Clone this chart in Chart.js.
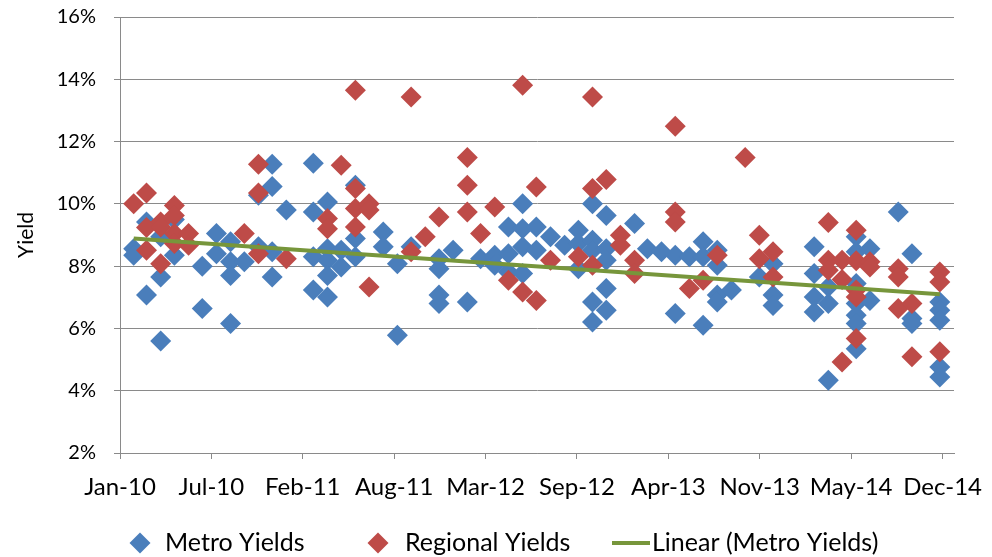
<!DOCTYPE html>
<html>
<head>
<meta charset="utf-8">
<script src="https://cdn.jsdelivr.net/npm/chart.js@4.4.1/dist/chart.umd.min.js"></script>
<style>
  html, body { margin: 0; padding: 0; background: #ffffff; }
  #wrap { width: 992px; height: 557px; }
</style>
</head>
<body>
<div id="wrap"><canvas id="chart" width="992" height="557"></canvas></div>
<script>
// Monthly yield observations: [month, yield %], plotted at each month's end.
const metroPoints = [
  ['2010-01', 8.56], ['2010-01', 8.35],
  ['2010-02', 9.42], ['2010-02', 7.07],
  ['2010-03', 8.94], ['2010-03', 7.65], ['2010-03', 5.6],
  ['2010-04', 9.5], ['2010-04', 8.35],
  ['2010-06', 8.0], ['2010-06', 6.64],
  ['2010-07', 9.05], ['2010-07', 8.4],
  ['2010-08', 8.78], ['2010-08', 8.14], ['2010-08', 7.7], ['2010-08', 6.16],
  ['2010-09', 8.14],
  ['2010-10', 10.28], ['2010-10', 8.62],
  ['2010-11', 11.27], ['2010-11', 10.56], ['2010-11', 8.46], ['2010-11', 7.65],
  ['2010-12', 9.8],
  ['2011-02', 11.3], ['2011-02', 9.74], ['2011-02', 8.3], ['2011-02', 7.23],
  ['2011-03', 10.06], ['2011-03', 8.56], ['2011-03', 8.19], ['2011-03', 7.7], ['2011-03', 7.01],
  ['2011-04', 8.51], ['2011-04', 7.97],
  ['2011-05', 10.6], ['2011-05', 8.89], ['2011-05', 8.3],
  ['2011-07', 9.1], ['2011-07', 8.62],
  ['2011-08', 8.08], ['2011-08', 5.78],
  ['2011-09', 8.62],
  ['2011-11', 8.24], ['2011-11', 7.92], ['2011-11', 7.07], ['2011-11', 6.8],
  ['2011-12', 8.51],
  ['2012-01', 6.85],
  ['2012-02', 8.24],
  ['2012-03', 8.35], ['2012-03', 8.03],
  ['2012-04', 9.26], ['2012-04', 8.4], ['2012-04', 7.81],
  ['2012-05', 10.0], ['2012-05', 9.2], ['2012-05', 8.62], ['2012-05', 7.76],
  ['2012-06', 9.26], ['2012-06', 8.51],
  ['2012-07', 8.94],
  ['2012-08', 8.67],
  ['2012-09', 9.15], ['2012-09', 8.73], ['2012-09', 7.92],
  ['2012-10', 10.0], ['2012-10', 8.83], ['2012-10', 8.51], ['2012-10', 6.85], ['2012-10', 6.21],
  ['2012-11', 9.63], ['2012-11', 8.56], ['2012-11', 8.19], ['2012-11', 7.28], ['2012-11', 6.58],
  ['2013-01', 9.37],
  ['2013-02', 8.56],
  ['2013-03', 8.46],
  ['2013-04', 8.35], ['2013-04', 6.48],
  ['2013-05', 8.3],
  ['2013-06', 8.78], ['2013-06', 8.3], ['2013-06', 6.1],
  ['2013-07', 8.51], ['2013-07', 8.03], ['2013-07', 7.07], ['2013-07', 6.85],
  ['2013-08', 7.23],
  ['2013-10', 7.65],
  ['2013-11', 8.08], ['2013-11', 7.07], ['2013-11', 6.74],
  ['2014-02', 8.62], ['2014-02', 7.76], ['2014-02', 7.01], ['2014-02', 6.53],
  ['2014-03', 7.33], ['2014-03', 6.8], ['2014-03', 4.34],
  ['2014-05', 8.94], ['2014-05', 8.46], ['2014-05', 7.44], ['2014-05', 6.8], ['2014-05', 6.42], ['2014-05', 6.16], ['2014-05', 5.35],
  ['2014-06', 8.56], ['2014-06', 6.9],
  ['2014-08', 9.74],
  ['2014-09', 8.4], ['2014-09', 6.32], ['2014-09', 6.16],
  ['2014-11', 6.85], ['2014-11', 6.58], ['2014-11', 6.26], ['2014-11', 4.76], ['2014-11', 4.44]
];

const regionalPoints = [
  ['2010-01', 10.0],
  ['2010-02', 10.35], ['2010-02', 9.24], ['2010-02', 8.51],
  ['2010-03', 9.42], ['2010-03', 9.26], ['2010-03', 8.08],
  ['2010-04', 9.95], ['2010-04', 9.63], ['2010-04', 9.05], ['2010-04', 8.73],
  ['2010-05', 9.05], ['2010-05', 8.67],
  ['2010-09', 9.05],
  ['2010-10', 11.27], ['2010-10', 10.35], ['2010-10', 8.4],
  ['2010-12', 8.24],
  ['2011-03', 9.53], ['2011-03', 9.2],
  ['2011-04', 11.24],
  ['2011-05', 13.65], ['2011-05', 10.49], ['2011-05', 9.85], ['2011-05', 9.26],
  ['2011-06', 10.0], ['2011-06', 9.8], ['2011-06', 7.33],
  ['2011-09', 13.43], ['2011-09', 8.46],
  ['2011-10', 8.94],
  ['2011-11', 9.58],
  ['2012-01', 11.49], ['2012-01', 10.6], ['2012-01', 9.74],
  ['2012-02', 9.05],
  ['2012-03', 9.9],
  ['2012-04', 7.55],
  ['2012-05', 13.81], ['2012-05', 7.17],
  ['2012-06', 10.54], ['2012-06', 6.9],
  ['2012-07', 8.19],
  ['2012-09', 8.3],
  ['2012-10', 13.43], ['2012-10', 10.49], ['2012-10', 8.03],
  ['2012-11', 10.78],
  ['2012-12', 8.99], ['2012-12', 8.67],
  ['2013-01', 8.19], ['2013-01', 7.76],
  ['2013-04', 12.49], ['2013-04', 9.74], ['2013-04', 9.42],
  ['2013-05', 7.28],
  ['2013-06', 7.55],
  ['2013-07', 8.35],
  ['2013-09', 11.49],
  ['2013-10', 8.99], ['2013-10', 8.24],
  ['2013-11', 8.46], ['2013-11', 7.65],
  ['2014-03', 9.4], ['2014-03', 8.19], ['2014-03', 7.87],
  ['2014-04', 8.19], ['2014-04', 7.57], ['2014-04', 4.92],
  ['2014-05', 9.15], ['2014-05', 8.17], ['2014-05', 7.23], ['2014-05', 7.01], ['2014-05', 5.68],
  ['2014-06', 8.14], ['2014-06', 7.97],
  ['2014-08', 7.92], ['2014-08', 7.65], ['2014-08', 6.64],
  ['2014-09', 6.8], ['2014-09', 5.09],
  ['2014-11', 7.81], ['2014-11', 7.49], ['2014-11', 5.25]
];

// Date axis: days since 1 Jan 2010, a label every 200 days.
const xTickLabels = ['Jan-10', 'Jul-10', 'Feb-11', 'Aug-11', 'Mar-12', 'Sep-12', 'Apr-13', 'Nov-13', 'May-14', 'Dec-14'];
const xTickStepDays = 200;
const xAxisEndDays = 1825;   // 31 Dec 2014
const yTicks = [2, 4, 6, 8, 10, 12, 14, 16];

const DAY_MS = 86400000;
const ORIGIN = Date.UTC(2010, 0, 1);

function monthEndDay(ym) {
  const [y, m] = ym.split('-').map(Number);
  return (Date.UTC(y, m, 0) - ORIGIN) / DAY_MS;
}
const toXY = p => ({ x: monthEndDay(p[0]), y: p[1] });

const metroData = metroPoints.map(toXY);
const regionalData = regionalPoints.map(toXY);

// Least-squares trend through the metro yields.
function linearFit(pts) {
  const n = pts.length;
  let sx = 0, sy = 0, sxx = 0, sxy = 0;
  pts.forEach(p => { sx += p.x; sy += p.y; sxx += p.x * p.x; sxy += p.x * p.y; });
  const b = (n * sxy - sx * sy) / (n * sxx - sx * sx);
  const a = (sy - b * sx) / n;
  return x => a + b * x;
}
const fit = linearFit(metroData);
const xs = metroData.map(p => p.x);
const xMin = Math.min(...xs), xMax = Math.max(...xs);
const trendData = [{ x: xMin, y: fit(xMin) }, { x: xMax, y: fit(xMax) }];

const FONT = 'Lato, "Open Sans", sans-serif';
const TEXT = '#000000';
const GRID = '#8a8a8a';

// Legend row under the axis: one marker plus label per series.
const legendRow = {
  id: 'legendRow',
  afterDraw(chart) {
    const ctx = chart.ctx;
    const y = 543;
    const items = [
      { ds: 0, marker: 140, text: 165 },
      { ds: 1, marker: 378, text: 405 },
      { ds: 2, marker: 631, text: 652 }
    ];
    ctx.save();
    ctx.font = '25px ' + FONT;
    ctx.textBaseline = 'middle';
    ctx.textAlign = 'left';
    items.forEach(it => {
      const ds = chart.data.datasets[it.ds];
      if (ds.type === 'line') {
        ctx.strokeStyle = ds.borderColor;
        ctx.lineWidth = ds.borderWidth;
        ctx.beginPath();
        ctx.moveTo(it.marker - 19, y);
        ctx.lineTo(it.marker + 19, y);
        ctx.stroke();
      } else {
        const r = 10.5;
        ctx.fillStyle = ds.backgroundColor;
        ctx.beginPath();
        ctx.moveTo(it.marker, y - r);
        ctx.lineTo(it.marker + r, y);
        ctx.lineTo(it.marker, y + r);
        ctx.lineTo(it.marker - r, y);
        ctx.closePath();
        ctx.fill();
      }
      ctx.fillStyle = TEXT;
      ctx.fillText(ds.label, it.text, y);
    });
    ctx.restore();
  }
};

new Chart(document.getElementById('chart'), {
  type: 'scatter',
  data: {
    datasets: [
      {
        label: 'Metro Yields',
        data: metroData,
        backgroundColor: '#4a7ebb',
        borderColor: '#4a7ebb',
        borderWidth: 0,
        pointStyle: 'rectRot',
        pointRadius: 10.5,
        pointHoverRadius: 10.5,
        order: 3
      },
      {
        label: 'Regional Yields',
        data: regionalData,
        backgroundColor: '#be4b48',
        borderColor: '#be4b48',
        borderWidth: 0,
        pointStyle: 'rectRot',
        pointRadius: 10.5,
        pointHoverRadius: 10.5,
        order: 2
      },
      {
        type: 'line',
        label: 'Linear (Metro Yields)',
        data: trendData,
        borderColor: '#77963b',
        backgroundColor: '#77963b',
        borderWidth: 4,
        pointRadius: 0,
        fill: false,
        order: 1
      }
    ]
  },
  plugins: [legendRow],
  options: {
    responsive: false,
    animation: false,
    events: [],
    layout: { padding: { left: 0, right: 38, top: 17, bottom: 56 } },
    plugins: {
      tooltip: { enabled: false },
      legend: { display: false }
    },
    scales: {
      x: {
        type: 'linear',
        min: 0,
        max: xAxisEndDays,
        afterBuildTicks: s => {
          s.ticks = xTickLabels.map((_, i) => ({ value: i * xTickStepDays }));
        },
        afterFit: s => {
          s.height = 48;
          s.paddingLeft = 0;
          s.paddingRight = 0;
        },
        ticks: {
          autoSkip: false,
          maxRotation: 0,
          padding: 14,
          color: TEXT,
          font: { family: FONT, size: 24 },
          callback: (v, i) => xTickLabels[i]
        },
        grid: { drawOnChartArea: false, drawTicks: true, tickLength: 6, color: GRID },
        border: { color: GRID, width: 1 }
      },
      y: {
        min: 2,
        max: 16,
        afterBuildTicks: s => { s.ticks = yTicks.map(v => ({ value: v })); },
        afterFit: s => {
          s.width = 120;
          s.paddingTop = 0;
          s.paddingBottom = 0;
        },
        ticks: {
          padding: 18,
          color: TEXT,
          font: { family: FONT, size: 20 },
          callback: v => v + '%'
        },
        grid: { color: GRID, tickLength: 6, lineWidth: 1 },
        border: { color: GRID, width: 1 },
        title: {
          display: true,
          text: 'Yield',
          color: TEXT,
          font: { family: FONT, size: 21 },
          padding: { top: 14, bottom: 0 }
        }
      }
    }
  }
});
</script>
</body>
</html>
